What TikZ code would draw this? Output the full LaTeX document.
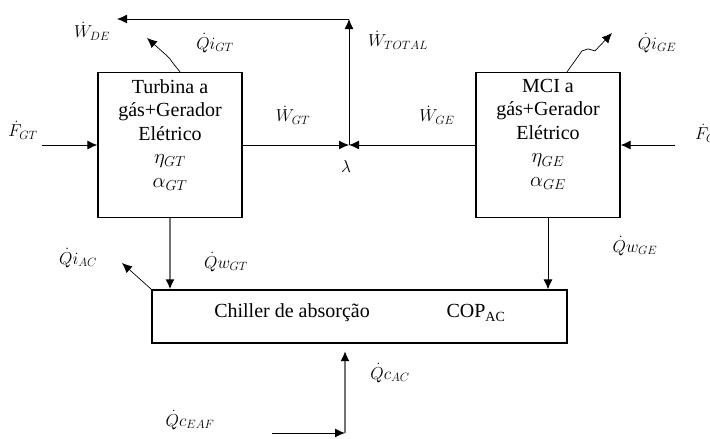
\documentclass[tikz,border=0pt]{standalone}
\usepackage{fontspec}
\setmainfont{Liberation Serif}
\usetikzlibrary{arrows.meta}
\begin{document}
\begin{tikzpicture}[x=1pt,y=-1pt,
  box/.style={draw, line width=1.2pt, inner sep=0pt},
  tip/.style={-{Latex[length=10pt,width=9pt,color=black]}},
  flow/.style={tip, line width=1pt},
  gflow/.style={tip, draw=black!55, line width=1.8pt},
  thin flow/.style={tip, line width=0.7pt},
  lbl/.style={font=\fontsize{18}{20}\selectfont, inner sep=1pt},
  txt/.style={font=\fontsize{20}{23.5}\selectfont, align=center, inner sep=0pt}]
\useasboundingbox (0,0) rectangle (710,439);
\fill[white] (0,0) rectangle (710,439);
% boxes
\node[box, minimum width=144pt, minimum height=145pt] (gt) at (170,145) {};
\node[box, minimum width=144pt, minimum height=145pt] (ge) at (548,145) {};
\node[box, minimum width=415pt, minimum height=53pt] (ch) at (359.5,316.5) {};
% box texts
\node[txt, anchor=north] (gtt) at (170,79) {Turbina a\\gás+Gerador\\Elétrico\\$\eta_{GT}$\\$\alpha_{GT}$};
\node[txt, anchor=north] (get) at (548,79) {MCI a\\gás+Gerador\\Elétrico\\$\eta_{GE}$\\$\alpha_{GE}$};
\node[txt] (cht) at (292,313) {Chiller de absorção};
\node[txt] (cop) at (476,313) {COP\textsubscript{AC}};
% labels
\node[lbl] (fgt) at (23,130) {$\dot{F}_{GT}$};
\node[lbl, anchor=west] (fge) at (694,133) {$\dot{F}_{GE}$};
\node[lbl] (wde) at (92,31) {$\dot{W}_{DE}$};
\node[lbl] (qigt) at (215,43) {$\dot{Q}i_{GT}$};
\node[lbl] (qige) at (657,43) {$\dot{Q}i_{GE}$};
\node[lbl] (wtot) at (398,40) {$\dot{W}_{TOTAL}$};
\node[lbl] (wgt) at (293,115) {$\dot{W}_{GT}$};
\node[lbl] (wge) at (437,115) {$\dot{W}_{GE}$};
\node[lbl] (lamt) at (346,166) {$\lambda$};
\node[lbl] (qiac) at (78,258) {$\dot{Q}i_{AC}$};
\node[lbl] (qwgt) at (226,262) {$\dot{Q}w_{GT}$};
\node[lbl] (qwge) at (635,246) {$\dot{Q}w_{GE}$};
\node[lbl] (qcac) at (390,373) {$\dot{Q}c_{AC}$};
\node[lbl] (qceaf) at (190,420) {$\dot{Q}c_{EAF}$};
% coordinates
\coordinate (lam) at (349,145);
\coordinate (tc) at (349,19);
\coordinate (wdeend) at (117,19);
\coordinate (fgts) at (42,145);
\coordinate (fges) at (675,145);
\coordinate (qigtend) at (147,38);
\coordinate (qigeend) at (612,33);
\coordinate (qiacend) at (122,263);
\coordinate (qcs) at (272,433);
\coordinate (qcc) at (345,433);
\coordinate (qce) at (345,351);
% connectors
\draw[flow] (gt.east) -- (lam);
\draw[flow] (ge.west) -- (lam);
\draw[flow] (lam) -- (tc);
\draw[flow] (tc) -- (wdeend);
\draw[flow] (fgts) -- (gt.west);
\draw[flow] (fges) -- (ge.east);
\draw[gflow] (gt.south) -- (gt.south |- ch.north);
\draw[flow] (ge.south) -- (ge.south |- ch.north);
\draw[thin flow] ([xshift=10pt]gt.north) -- ++(-8,-10) -- ++(-2,-3) -- ++(-4,-4) -- (qigtend);
\draw[thin flow] ([xshift=19pt]ge.north) -- ++(15,-21) -- ++(6,-2) -- ++(7,2) -- (qigeend);
\draw[thin flow] (ch.north west) -- (qiacend);
\draw[flow] (qcs) -- (qcc);
\draw[gflow] (qcc) -- (qce);
\end{tikzpicture}
\end{document}
